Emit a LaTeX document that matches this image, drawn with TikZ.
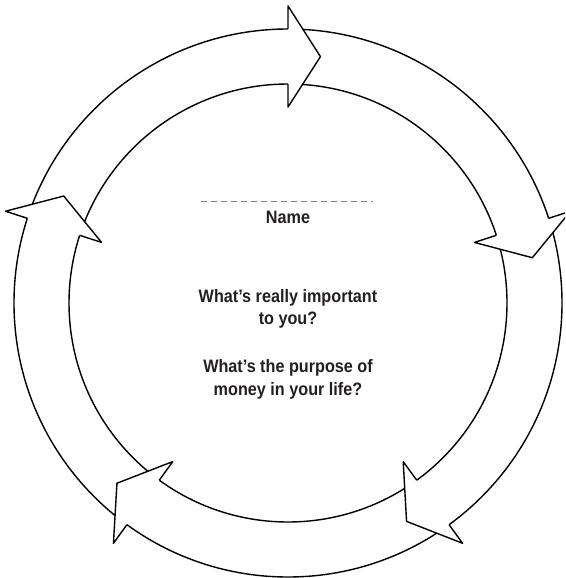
\documentclass[tikz,border=0pt]{standalone}
\usepackage{fontspec}
\setmainfont{Liberation Sans}[FakeStretch=0.9]
\usetikzlibrary{calc}
\definecolor{ink}{HTML}{231F20}
\begin{document}
\begin{tikzpicture}[x=1pt,y=1pt,
  ring/.style={draw=black,line width=1.4pt},
  headshape/.style={draw=black,fill=white,line width=1.4pt,line join=round},
  label/.style={font=\bfseries\fontsize{18}{22.3}\selectfont,text=ink,align=center,inner sep=0pt},
  blank/.style={draw=gray,line width=0.8pt,dash pattern=on 6pt off 4pt}]
\useasboundingbox (0,0) rectangle (565,-578);
\clip (0,0) rectangle (565,-578);
\coordinate (c) at (288,-303);
\draw[ring] (c) circle[radius=274pt];
\draw[ring] (c) circle[radius=219pt];
\foreach \a in {90,18,-54,-126,-198} {
  \filldraw[headshape] ($(c)+(\a:274pt)$) -- ($(c)+(\a:297pt)$) -- ($(c)+(\a-7.5:248.5pt)$) -- ($(c)+(\a:196pt)$) -- ($(c)+(\a:219pt)$);
}
\coordinate (dl) at (200.7,-201.7);
\coordinate (dr) at (372.7,-201.7);
\draw[blank] (dl) -- (dr);
\node[label,anchor=base] (name) at (288,-223.3) {Name};
\node[label,anchor=base] (q1) at (288,-324.3) {What’s really important\\to you?};
\node[label,anchor=base] (q2) at (288,-395) {What’s the purpose of\\money in your life?};
\end{tikzpicture}
\end{document}
